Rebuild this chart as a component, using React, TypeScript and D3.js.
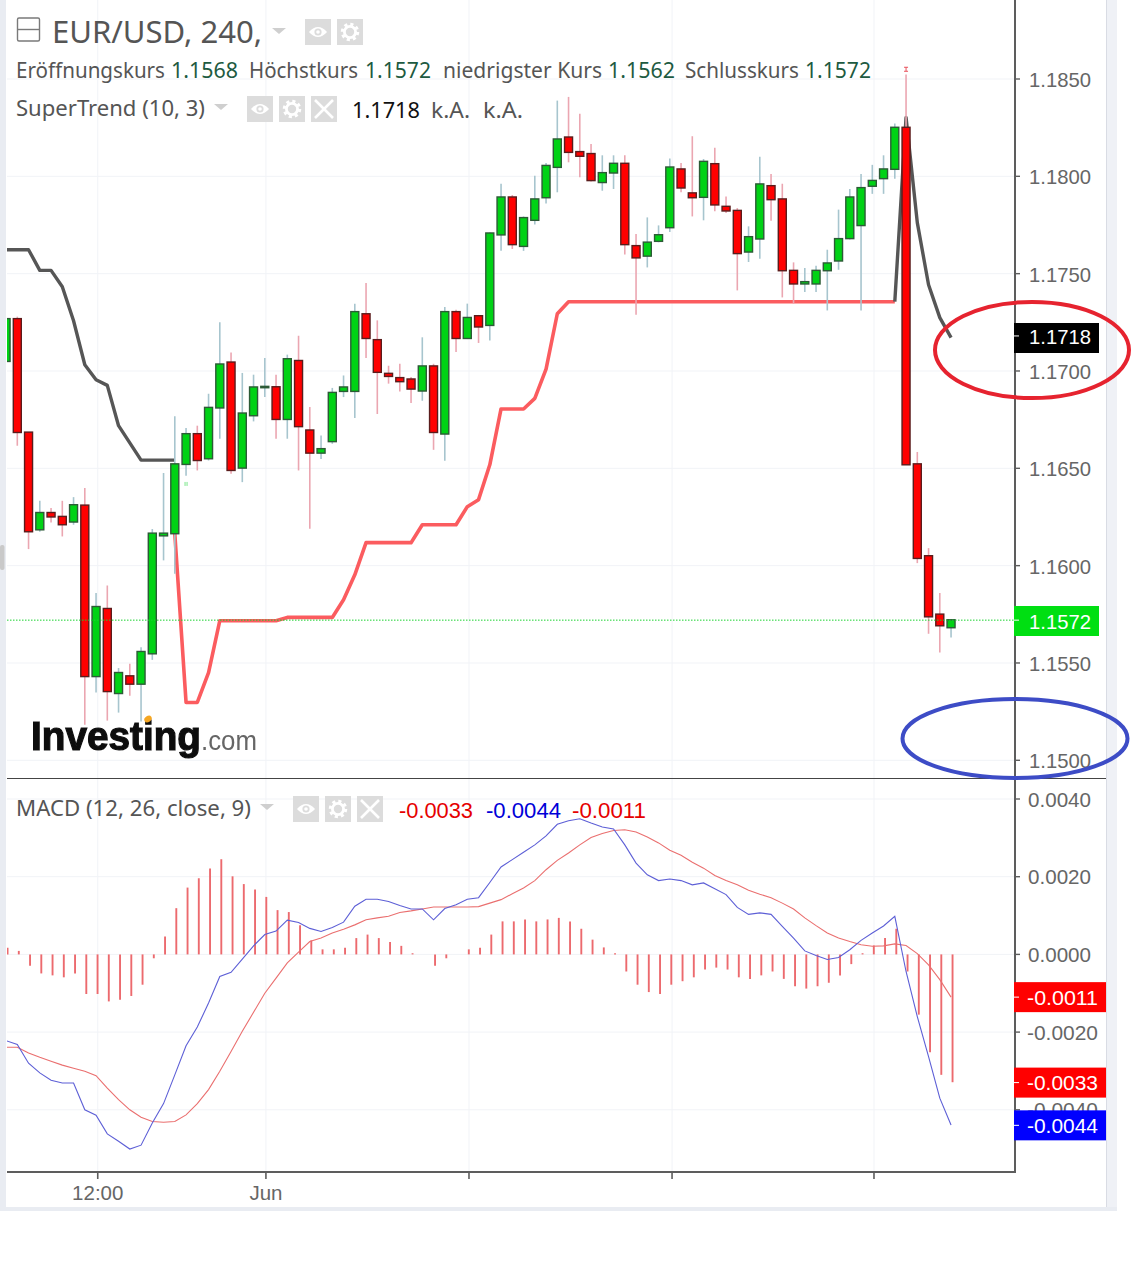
import React from "react";
import * as d3 from "d3";

// ---------- price data (4h EUR/USD candles) ----------
const opens = [1.17049,1.17269,1.16686,1.16184,1.16273,1.16253,1.16224,1.16311,1.15430,1.15780,1.15343,1.15434,1.15391,1.15547,1.16153,1.16164,1.16520,1.16678,1.16549,1.16810,1.17046,1.16501,1.16770,1.16914,1.16919,1.16751,1.17054,1.16697,1.16578,1.16637,1.16895,1.16895,1.17294,1.17161,1.16988,1.16966,1.16959,1.16897,1.17026,1.16676,1.17305,1.17167,1.17284,1.17234,1.17699,1.17894,1.17640,1.17774,1.17890,1.18046,1.18202,1.18127,1.18117,1.17968,1.18017,1.18067,1.17644,1.17590,1.17666,1.17736,1.18038,1.17915,1.17892,1.18065,1.17846,1.17825,1.17611,1.17678,1.17952,1.17884,1.17517,1.17447,1.17447,1.17515,1.17565,1.17680,1.17747,1.17949,1.17988,1.18036,1.18252,1.16523,1.16051,1.15751,1.15681];
const highs = [1.17269,1.17279,1.16686,1.16333,1.16296,1.16333,1.16352,1.16399,1.15859,1.15898,1.15474,1.15496,1.15581,1.16188,1.16476,1.16767,1.16707,1.16719,1.16883,1.17250,1.17095,1.16990,1.16981,1.17067,1.16981,1.17084,1.17181,1.16815,1.16669,1.16913,1.16977,1.17346,1.17452,1.17260,1.17027,1.17037,1.16969,1.17173,1.17037,1.17329,1.17315,1.17346,1.17288,1.17712,1.17962,1.17904,1.17794,1.18003,1.18069,1.18389,1.18408,1.18322,1.18166,1.18108,1.18108,1.18108,1.17704,1.17789,1.17748,1.18091,1.18069,1.18206,1.18089,1.18147,1.17897,1.17837,1.17743,1.18100,1.18012,1.17962,1.17558,1.17529,1.17541,1.17623,1.17829,1.17935,1.18012,1.18059,1.18108,1.18271,1.18523,1.16584,1.16090,1.15859,1.15722];
const lows = [1.17049,1.16616,1.16085,1.16174,1.16222,1.16150,1.16210,1.15182,1.15348,1.15204,1.15245,1.15331,1.15199,1.15516,1.16027,1.15958,1.16462,1.16489,1.16540,1.16652,1.16472,1.16429,1.16741,1.16866,1.16652,1.16652,1.16489,1.16190,1.16548,1.16626,1.16866,1.16758,1.17067,1.16779,1.16935,1.16895,1.16835,1.16847,1.16595,1.16539,1.17098,1.17164,1.17144,1.17157,1.17618,1.17627,1.17617,1.17752,1.17860,1.17918,1.18072,1.17995,1.17974,1.17926,1.17935,1.17598,1.17289,1.17532,1.17661,1.17714,1.17918,1.17794,1.17774,1.17820,1.17812,1.17414,1.17560,1.17577,1.17772,1.17378,1.17346,1.17406,1.17406,1.17311,1.17520,1.17675,1.17311,1.17910,1.17910,1.17987,1.16518,1.16013,1.15650,1.15554,1.15631];
const closes = [1.17269,1.16684,1.16174,1.16273,1.16250,1.16210,1.16313,1.15430,1.15790,1.15353,1.15451,1.15391,1.15559,1.16167,1.16167,1.16523,1.16678,1.16540,1.16813,1.17036,1.16489,1.16784,1.16918,1.16921,1.16751,1.17063,1.16714,1.16578,1.16601,1.16890,1.16918,1.17305,1.17167,1.16993,1.16972,1.16945,1.16907,1.17026,1.16684,1.17305,1.17167,1.17275,1.17226,1.17709,1.17894,1.17649,1.17788,1.17884,1.18056,1.18192,1.18123,1.18103,1.17978,1.18019,1.18067,1.17649,1.17581,1.17662,1.17700,1.18048,1.17940,1.17890,1.18077,1.17853,1.17822,1.17603,1.17690,1.17961,1.17880,1.17515,1.17447,1.17459,1.17517,1.17555,1.17680,1.17894,1.17942,1.17979,1.18038,1.18252,1.16518,1.16037,1.15737,1.15691,1.15722];

// SuperTrend: [candle index, value]
const superDownFirst = [[0,1.17623],[1,1.17623],[2,1.17623],[3,1.17517],[4,1.17517],[5,1.17433],[6,1.17258],[7,1.17032],[8,1.16955],[9,1.16926],[10,1.16719],[11,1.16631],[12,1.16542],[13,1.16542],[14,1.16542],[15,1.16542]];
const superDownLast = [[79,1.17356],[80,1.18302],[81,1.17762],[82,1.17443],[83,1.17274],[84,1.17171]];
const superUpStart = 15;
const superUp = [1.16164,1.15297,1.15297,1.15450,1.15717,1.15717,1.15717,1.15717,1.15717,1.15717,1.15734,1.15734,1.15734,1.15734,1.15734,1.15825,1.15953,1.16118,1.16118,1.16118,1.16118,1.16118,1.16210,1.16210,1.16210,1.16210,1.16303,1.16339,1.16518,1.16805,1.16805,1.16805,1.16859,1.17010,1.17294,1.17356,1.17356,1.17356,1.17356,1.17356,1.17356,1.17356,1.17356,1.17356,1.17356,1.17356,1.17356,1.17356,1.17356,1.17356,1.17356,1.17356,1.17356,1.17356,1.17356,1.17356,1.17356,1.17356,1.17356,1.17356,1.17356,1.17356,1.17356,1.17356,1.17356];

// MACD pane
const macdLine = [-0.00222,-0.00232,-0.00280,-0.00305,-0.00324,-0.00331,-0.00331,-0.00400,-0.00414,-0.00462,-0.00481,-0.00501,-0.00491,-0.00434,-0.00384,-0.00310,-0.00235,-0.00187,-0.00125,-0.00057,-0.00046,-0.00012,0.00022,0.00051,0.00060,0.00088,0.00082,0.00067,0.00059,0.00069,0.00083,0.00124,0.00142,0.00142,0.00136,0.00126,0.00117,0.00117,0.00089,0.00118,0.00128,0.00142,0.00146,0.00185,0.00225,0.00244,0.00263,0.00282,0.00305,0.00335,0.00344,0.00349,0.00338,0.00328,0.00323,0.00282,0.00235,0.00205,0.00190,0.00194,0.00190,0.00179,0.00184,0.00169,0.00154,0.00121,0.00103,0.00107,0.00103,0.00072,0.00042,0.00009,-0.00003,-0.00013,-0.00008,0.00012,0.00036,0.00055,0.00073,0.00098,-0.00044,-0.00160,-0.00263,-0.00370,-0.00439];
const signalLine = [-0.00239,-0.00239,-0.00254,-0.00265,-0.00275,-0.00285,-0.00293,-0.00301,-0.00312,-0.00344,-0.00374,-0.00400,-0.00419,-0.00430,-0.00432,-0.00430,-0.00413,-0.00384,-0.00348,-0.00301,-0.00250,-0.00198,-0.00149,-0.00100,-0.00061,-0.00022,0.00006,0.00033,0.00042,0.00055,0.00065,0.00076,0.00089,0.00094,0.00098,0.00108,0.00112,0.00117,0.00122,0.00122,0.00122,0.00122,0.00123,0.00132,0.00141,0.00156,0.00171,0.00190,0.00218,0.00242,0.00261,0.00282,0.00301,0.00311,0.00319,0.00321,0.00315,0.00302,0.00287,0.00268,0.00255,0.00237,0.00222,0.00203,0.00190,0.00179,0.00165,0.00155,0.00146,0.00132,0.00117,0.00094,0.00074,0.00055,0.00042,0.00033,0.00025,0.00021,0.00022,0.00027,0.00023,0.00002,-0.00027,-0.00065,-0.00110];
const histogram = [0.00017,0.00009,-0.00029,-0.00049,-0.00054,-0.00059,-0.00049,-0.00102,-0.00102,-0.00121,-0.00117,-0.00107,-0.00078,-0.00010,0.00046,0.00119,0.00172,0.00196,0.00221,0.00245,0.00201,0.00181,0.00167,0.00148,0.00114,0.00109,0.00075,0.00036,0.00013,0.00013,0.00017,0.00042,0.00051,0.00042,0.00032,0.00022,0.00003,0,-0.00029,-0.00010,0,0.00013,0.00017,0.00051,0.00085,0.00085,0.00090,0.00085,0.00090,0.00094,0.00085,0.00066,0.00038,0.00018,0.00003,-0.00044,-0.00078,-0.00097,-0.00102,-0.00078,-0.00069,-0.00059,-0.00039,-0.00034,-0.00039,-0.00059,-0.00063,-0.00054,-0.00044,-0.00063,-0.00082,-0.00088,-0.00082,-0.00073,-0.00054,-0.00025,0.00003,0.00023,0.00042,0.00066,-0.00044,-0.00155,-0.00252,-0.00310,-0.00329];

// Axis ticks
const priceTicks = [1.185,1.18,1.175,1.17,1.165,1.16,1.155,1.15];
const macdTicks = [0.004,0.002,0,-0.002,-0.004];
const timeTickIndex = [8.15,23.1,41.15,59.2,77.15];
const timeTickLabels = ["12:00","Jun","","",""];
const lastClose = 1.1572;
const superLast = 1.1718;
const macdBadges = [
  { value: -0.0011, color: "#ff0000" },
  { value: -0.0033, color: "#ff0000" },
  { value: -0.0044, color: "#0000ff" },
];
const legendOHLC = [
  { label: "Eröffnungskurs", x: 16, w: 149, value: "1.1568", vx: 171, vw: 67 },
  { label: "Höchstkurs", x: 249, w: 109, value: "1.1572", vx: 365, vw: 66 },
  { label: "niedrigster Kurs", x: 443, w: 159, value: "1.1562", vx: 608, vw: 67 },
  { label: "Schlusskurs", x: 685, w: 114, value: "1.1572", vx: 805, vw: 66 },
];
const superTrendLegend = { name: "SuperTrend (10, 3)", value: "1.1718", na: "k.A." };
const macdLegend = { name: "MACD (12, 26, close, 9)", values: ["-0.0033", "-0.0044", "-0.0011"] };

// ---------- layout ----------
const W = 1143, H = 1269;
const plotL = 7, axisX = 1015, sepY = 778.5, paneBottom = 1172, stripR = 1106;
const x = d3.scaleLinear().domain([0, 84]).range([6.05, 951.05]);
const y = d3.scaleLinear().domain([1.185, 1.15]).range([79, 760.3]);
const my = d3.scaleLinear().domain([0.004, -0.004]).range([799, 1109.8]);

const NOTO = "'Noto Sans', sans-serif";
const ARIAL = "'Liberation Sans', Arial, sans-serif";
const AXIS_C = "#5d5d5d";
const GRID = "#f1f3f7";
const FIT = "spacingAndGlyphs";

function Eye({ bx, by }: { bx: number; by: number }) {
  const c = [bx + 13, by + 13];
  return (
    <g>
      <rect x={bx} y={by} width={26} height={26} fill="#dcdcdc" />
      <path d={`M${c[0] - 9} ${c[1]} Q${c[0]} ${c[1] - 10} ${c[0] + 9} ${c[1]} Q${c[0]} ${c[1] + 10} ${c[0] - 9} ${c[1]}Z`} fill="#fff" />
      <circle cx={c[0]} cy={c[1]} r={3.6} fill="#dcdcdc" />
      <circle cx={c[0]} cy={c[1]} r={1.8} fill="#fff" />
    </g>
  );
}
function Gear({ bx, by }: { bx: number; by: number }) {
  const cx = bx + 13, cy = by + 13;
  return (
    <g>
      <rect x={bx} y={by} width={26} height={26} fill="#dcdcdc" />
      <circle cx={cx} cy={cy} r={7.5} fill="none" stroke="#fff" strokeWidth={3.5} strokeDasharray="3 2.9" />
      <circle cx={cx} cy={cy} r={5.6} fill="none" stroke="#fff" strokeWidth={2.8} />
    </g>
  );
}
function Cross({ bx, by }: { bx: number; by: number }) {
  return (
    <g>
      <rect x={bx} y={by} width={26} height={26} fill="#dcdcdc" />
      <path d={`M${bx + 4} ${by + 4}L${bx + 22} ${by + 22}M${bx + 22} ${by + 4}L${bx + 4} ${by + 22}`} stroke="#fff" strokeWidth={2.6} />
    </g>
  );
}
function Caret({ x0, y0 }: { x0: number; y0: number }) {
  return <path d={`M${x0} ${y0}h14l-7 6z`} fill="#cfcfcf" />;
}

export default function App() {
  const line = d3.line<number[]>().x((d) => x(d[0])).y((d) => y(d[1]));
  const upPts = superUp.map((v, k) => [k + superUpStart, v]);
  const macdPath = d3.line<number>().x((_, i) => x(i)).y((d) => my(d))(macdLine)!;
  const signalPath = d3.line<number>().x((_, i) => x(i)).y((d) => my(d))(signalLine)!;

  return (
    <svg width={W} height={H} style={{ position: "absolute", left: 0, top: 0, background: "#fff" }}>
      <defs>
        <clipPath id="priceClip"><rect x={plotL} y={0} width={axisX - plotL} height={778} /></clipPath>
        <clipPath id="macdClip"><rect x={plotL} y={778} width={axisX - plotL} height={paneBottom - 778} /></clipPath>
        <filter id="soft"><feGaussianBlur stdDeviation="0.6" /></filter>
      </defs>

      {/* page frame strips */}
      <rect x={0} y={0} width={6} height={1211} fill="#e9ecf2" />
      <rect x={0} y={545} width={4.5} height={25} rx={2} fill="#c9c9c9" />
      <rect x={stripR} y={0} width={11} height={1211} fill="#eff1f6" />
      <line x1={stripR + 0.5} x2={stripR + 0.5} y1={0} y2={1208} stroke="#d9dce4" />
      <rect x={0} y={1207} width={1117} height={4} fill="#e9ecf2" />

      {/* grids */}
      {priceTicks.map((t) => (
        <line key={t} x1={plotL} x2={axisX} y1={y(t)} y2={y(t)} stroke={GRID} strokeWidth={1} />
      ))}
      {macdTicks.map((t) => (
        <line key={t} x1={plotL} x2={axisX} y1={my(t)} y2={my(t)} stroke={GRID} strokeWidth={1} />
      ))}
      {timeTickIndex.map((t) => (
        <line key={t} x1={x(t)} x2={x(t)} y1={0} y2={paneBottom} stroke={GRID} strokeWidth={1} />
      ))}

      {/* SuperTrend */}
      <g clipPath="url(#priceClip)" fill="none" strokeLinejoin="round">
        <path d={line(upPts)!} stroke="#fb5c5f" strokeWidth={3.6} />
        <path d={line(superDownFirst)!} stroke="#565656" strokeWidth={3.4} />
        <path d={line(superDownLast)!} stroke="#565656" strokeWidth={3.4} />
      </g>

      {/* candles */}
      <g clipPath="url(#priceClip)">
        {opens.map((o, i) => {
          const c = closes[i];
          const up = c >= o;
          const top = y(Math.max(o, c));
          const h = Math.max(y(Math.min(o, c)) - top, 1);
          return (
            <g key={i}>
              <line x1={x(i)} x2={x(i)} y1={y(highs[i])} y2={y(lows[i])} stroke={up ? "#a7c5ce" : "#eba6b1"} strokeWidth={1.6} />
              <rect
                x={x(i) - 4}
                y={top}
                width={8}
                height={h}
                fill={up ? "#00d215" : "#ff0000"}
                stroke={up ? "#2c5a36" : "#5a1c1c"}
                strokeWidth={1.4}
              />
            </g>
          );
        })}
        {/* SuperTrend buy / sell markers */}
        <path d={`M${x(16) - 1} ${y(1.1643)}v4M${x(16) + 1} ${y(1.1643)}v4`} stroke="#7be68a" strokeWidth={1} />
        <path d={`M${x(80) - 2} ${y(1.1855) - 2}h4M${x(80)} ${y(1.1855) - 2}v4M${x(80) - 2} ${y(1.1855) + 2}h4`} stroke="#e8515b" strokeWidth={1} fill="none" />
        {/* last price line */}
        <line x1={plotL} x2={axisX} y1={y(lastClose)} y2={y(lastClose)} stroke="#19d32f" strokeWidth={1} strokeDasharray="1.5 1.5" />
      </g>

      {/* MACD pane */}
      <g clipPath="url(#macdClip)">
        {histogram.map((v, i) => (
          <line key={i} x1={x(i) + 1.5} x2={x(i) + 1.5} y1={my(0)} y2={my(v)} stroke="#ec6a6e" strokeWidth={1.9} />
        ))}
        <path d={signalPath} fill="none" stroke="#ea6f6f" strokeWidth={1.1} />
        <path d={macdPath} fill="none" stroke="#5d5fd6" strokeWidth={1.1} />
      </g>

      {/* axes */}
      <line x1={axisX} x2={axisX} y1={0} y2={paneBottom} stroke={AXIS_C} strokeWidth={2} />
      <line x1={plotL} x2={axisX + 1} y1={paneBottom} y2={paneBottom} stroke={AXIS_C} strokeWidth={2} />
      <line x1={plotL} x2={stripR} y1={sepY} y2={sepY} stroke="#444" strokeWidth={1} />

      {priceTicks.map((t) => (
        <g key={t}>
          <line x1={axisX} x2={axisX + 5} y1={y(t)} y2={y(t)} stroke={AXIS_C} strokeWidth={1.4} />
          <text x={1029} y={y(t) + 8} fontFamily={ARIAL} fontSize={21} fill="#666" textLength={62} lengthAdjust={FIT}>{t.toFixed(4)}</text>
        </g>
      ))}
      {macdTicks.map((t) => (
        <g key={t}>
          <line x1={axisX} x2={axisX + 5} y1={my(t)} y2={my(t)} stroke={AXIS_C} strokeWidth={1.4} />
          <text x={t < 0 ? 1027 : 1028} y={my(t) + 7.5} fontFamily={ARIAL} fontSize={21} fill="#666" textLength={t < 0 ? 71 : 63} lengthAdjust={FIT}>{t.toFixed(4)}</text>
        </g>
      ))}
      {timeTickIndex.map((t, k) => (
        <g key={t}>
          <line x1={x(t)} x2={x(t)} y1={paneBottom} y2={paneBottom + 7} stroke={AXIS_C} strokeWidth={1.6} />
          {timeTickLabels[k] && (
            <text x={x(t)} y={1199.5} textAnchor="middle" fontFamily={ARIAL} fontSize={20.5} fill="#666">{timeTickLabels[k]}</text>
          )}
        </g>
      ))}

      {/* value badges */}
      <rect x={1014} y={323} width={85} height={30} fill="#000" />
      <line x1={1014} x2={1019} y1={y(superLast)} y2={y(superLast)} stroke="#fff" />
      <text x={1029} y={y(superLast) + 8} fontFamily={ARIAL} fontSize={21} fill="#fff" textLength={62} lengthAdjust={FIT}>{superLast.toFixed(4)}</text>
      <rect x={1014} y={606} width={85} height={30} fill="#00df12" />
      <line x1={1014} x2={1019} y1={y(lastClose)} y2={y(lastClose)} stroke="#fff" />
      <text x={1029} y={y(lastClose) + 8.5} fontFamily={ARIAL} fontSize={21} fill="#fff" textLength={62} lengthAdjust={FIT}>{lastClose.toFixed(4)}</text>
      {macdBadges.map((b) => (
        <g key={b.value}>
          <rect x={1014} y={my(b.value) - 15} width={92} height={30} fill={b.color} />
          <line x1={1014} x2={1019} y1={my(b.value)} y2={my(b.value)} stroke="#fff" />
          <text x={1027} y={my(b.value) + 7.5} fontFamily={ARIAL} fontSize={21} fill="#fff" textLength={71} lengthAdjust={FIT}>{b.value.toFixed(4)}</text>
        </g>
      ))}

      {/* legend row 1 */}
      <rect x={17.5} y={18} width={22} height={23} rx={1.5} fill="none" stroke="#7a7a7a" strokeWidth={1.4} />
      <line x1={18} x2={39} y1={29.5} y2={29.5} stroke="#7a7a7a" strokeWidth={1.4} />
      <text x={52} y={43} fontFamily={NOTO} fontSize={31} fill="#555" textLength={210} lengthAdjust={FIT}>EUR/USD, 240,</text>
      <Caret x0={272} y0={28} />
      <Eye bx={305} by={19} />
      <Gear bx={337} by={19} />
      {legendOHLC.map((d) => (
        <g key={d.label} fontFamily={NOTO} fontSize={21.5}>
          <text x={d.x} y={78} fill="#555" textLength={d.w} lengthAdjust={FIT}>{d.label}</text>
          <text x={d.vx} y={78} fill="#1d5a41" textLength={d.vw} lengthAdjust={FIT}>{d.value}</text>
        </g>
      ))}

      {/* legend row 2 */}
      <text x={16} y={116} fontFamily={NOTO} fontSize={21.5} fill="#555" textLength={189} lengthAdjust={FIT}>{superTrendLegend.name}</text>
      <Caret x0={214} y0={104} />
      <Eye bx={247} by={96} />
      <Gear bx={279} by={96} />
      <Cross bx={311} by={96} />
      <text x={352} y={118} fontFamily={NOTO} fontSize={21.5} fill="#111" textLength={68} lengthAdjust={FIT}>{superTrendLegend.value}</text>
      <text x={431} y={118} fontFamily={NOTO} fontSize={21.5} fill="#555" textLength={39} lengthAdjust={FIT}>{superTrendLegend.na}</text>
      <text x={483} y={118} fontFamily={NOTO} fontSize={21.5} fill="#555" textLength={40} lengthAdjust={FIT}>{superTrendLegend.na}</text>

      {/* legend MACD */}
      <text x={16} y={816} fontFamily={NOTO} fontSize={21.5} fill="#555" textLength={235} lengthAdjust={FIT}>{macdLegend.name}</text>
      <Caret x0={260} y0={804} />
      <Eye bx={293} by={796} />
      <Gear bx={325} by={796} />
      <Cross bx={357} by={796} />
      <text x={399} y={818} fontFamily={ARIAL} fontSize={22.5} fill="#e60000" textLength={74} lengthAdjust={FIT}>{macdLegend.values[0]}</text>
      <text x={486} y={818} fontFamily={ARIAL} fontSize={22.5} fill="#0000d8" textLength={75} lengthAdjust={FIT}>{macdLegend.values[1]}</text>
      <text x={572} y={818} fontFamily={ARIAL} fontSize={22.5} fill="#e60000" textLength={74} lengthAdjust={FIT}>{macdLegend.values[2]}</text>

      {/* logo */}
      <g filter="url(#soft)">
        <text x={31} y={750} fontFamily={ARIAL} fontWeight={700} fontSize={40} fill="#111" textLength={170} lengthAdjust={FIT} stroke="#111" strokeWidth={1.2}>Investing</text>
        <text x={201} y={750} fontFamily={ARIAL} fontSize={28} fill="#666" textLength={56} lengthAdjust={FIT}>.com</text>
        <ellipse cx={148} cy={719} rx={4} ry={3} fill="#f5a623" transform="rotate(-35 148 719)" />
      </g>

      {/* hand-drawn annotations */}
      <ellipse cx={1032} cy={350} rx={97} ry={48} fill="none" stroke="#e6232f" strokeWidth={4} />
      <ellipse cx={1015} cy={738.5} rx={112.5} ry={39.5} fill="none" stroke="#3d4cc6" strokeWidth={4} />
    </svg>
  );
}
